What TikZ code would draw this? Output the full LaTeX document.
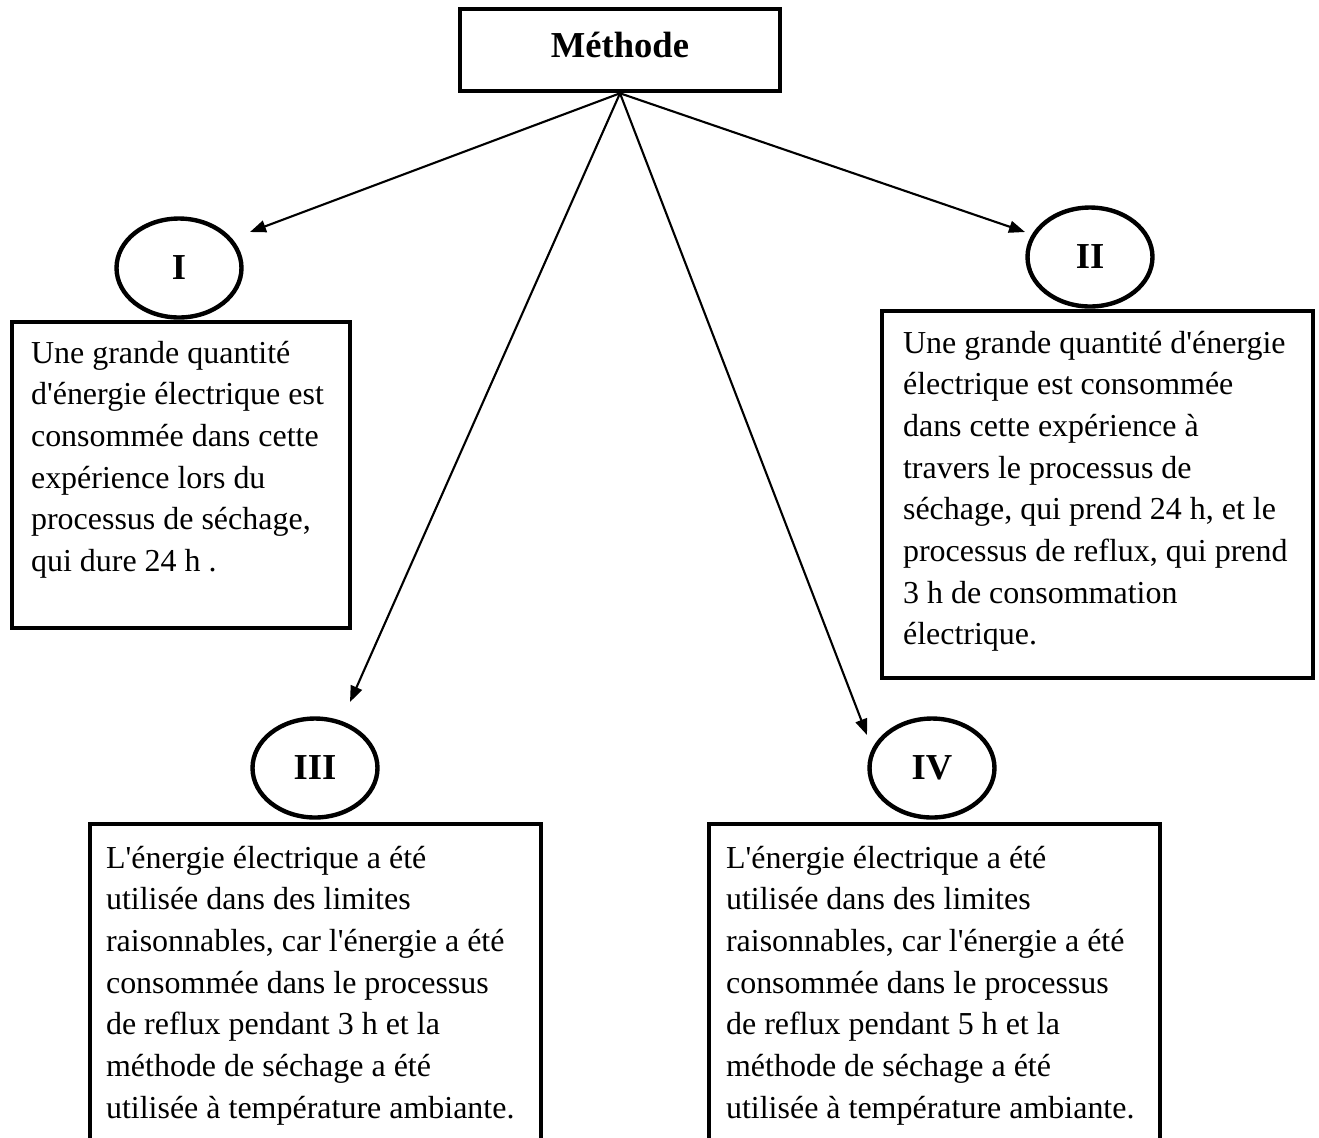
\documentclass[tikz,border=0pt]{standalone}
\usepackage{fontspec}
\setmainfont{Liberation Serif}[Ligatures=TeXOff]
\usetikzlibrary{arrows.meta,shapes.geometric,positioning,fit}

\tikzset{
  cadre/.style={draw,line width=2.6pt,inner sep=0pt},
  bulle/.style={draw,ellipse,line width=2.5pt,fill=white,
    minimum width=2.5cm,minimum height=1.98cm,
    font=\fontsize{20.8}{25}\selectfont\bfseries},
  texte/.style={align=left,inner sep=0pt,
    font=\fontsize{18.2}{23.7}\selectfont},
  fleche/.style={-{Triangle[length=0.32cm,width=0.24cm]},line width=1.2pt}
}

\begin{document}
\begin{tikzpicture}[x=0.02cm,y=-0.02cm]
  \useasboundingbox (0,0) rectangle (1319,1137);
  \clip (0,0) rectangle (1319,1137);

  % titre
  \node[cadre,minimum width=6.4cm,minimum height=1.64cm,text depth=0.2cm,
        font=\fontsize{20.8}{25}\selectfont\bfseries] (methode) at (620,50) {Méthode};

  % les quatre cadres
  \node[cadre,fit={(12,322) (350,628)}] (boiteI) {};
  \node[cadre,fit={(882,311) (1313,678)}] (boiteII) {};
  \node[cadre,fit={(90,824) (541,1160)}] (boiteIII) {};
  \node[cadre,fit={(709,824) (1160,1160)}] (boiteIV) {};

  \node[texte,below right=0.42cm and 0.42cm of boiteI.north west] (txtI)
    {Une grande quantité\\ d'énergie électrique est\\ consommée dans cette\\
     expérience lors du\\ processus de séchage,\\ qui dure 24 h .};
  \node[texte,below right=0.44cm and 0.46cm of boiteII.north west] (txtII)
    {Une grande quantité d'énergie\\ électrique est consommée\\ dans cette expérience à\\
     travers le processus de\\ séchage, qui prend 24 h, et le\\ processus de reflux, qui prend\\
     3 h de consommation\\ électrique.};
  \node[texte,below right=0.48cm and 0.36cm of boiteIII.north west] (txtIII)
    {L'énergie électrique a été\\ utilisée dans des limites\\ raisonnables, car l'énergie a été\\
     consommée dans le processus\\ de reflux pendant 3 h et la\\ méthode de séchage a été\\
     utilisée à température ambiante.};
  \node[texte,below right=0.48cm and 0.38cm of boiteIV.north west] (txtIV)
    {L'énergie électrique a été\\ utilisée dans des limites\\ raisonnables, car l'énergie a été\\
     consommée dans le processus\\ de reflux pendant 5 h et la\\ méthode de séchage a été\\
     utilisée à température ambiante.};

  % numeros
  \node[bulle] (numI) at (179,268) {I};
  \node[bulle] (numII) at (1090,257) {II};
  \node[bulle] (numIII) at (315,768) {III};
  \node[bulle] (numIV) at (932,768) {IV};

  % fleches
  \coordinate (pointeI) at (250,232);
  \coordinate (pointeII) at (1025,232);
  \coordinate (pointeIII) at (350,702);
  \coordinate (pointeIV) at (867,735);
  \foreach \n in {I,II,III,IV}
    \draw[fleche] (methode.south) -- (pointe\n);
\end{tikzpicture}
\end{document}
